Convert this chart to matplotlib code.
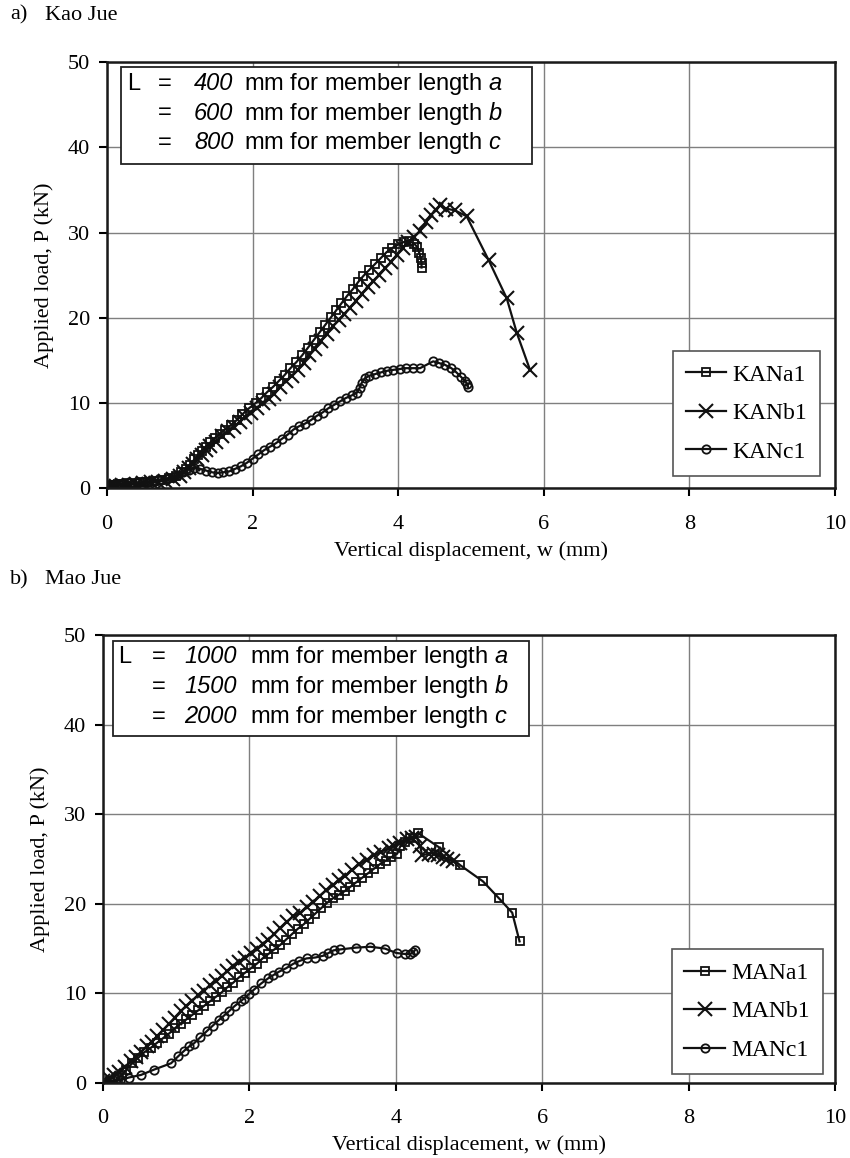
import matplotlib
matplotlib.use('Agg')
import matplotlib.pyplot as plt
from matplotlib.patches import Rectangle

plt.rcParams['font.family'] = 'Liberation Serif'
plt.rcParams['mathtext.fontset'] = 'custom'
plt.rcParams['mathtext.rm'] = 'Liberation Sans'
plt.rcParams['mathtext.it'] = 'Liberation Sans:italic'

# Kao Jue (a)
kana1_w = [0.00, 0.05, 0.10, 0.15, 0.20, 0.28, 0.35, 0.45, 0.55, 0.65, 0.75, 0.85, 0.95, 1.02, 1.08,
           1.14, 1.20, 1.25, 1.30, 1.36, 1.42, 1.48, 1.55, 1.62, 1.70, 1.78, 1.86, 1.95, 2.04, 2.12,
           2.20, 2.28, 2.36, 2.44, 2.52, 2.60, 2.68, 2.76, 2.84, 2.92, 3.00, 3.08, 3.15, 3.22, 3.30,
           3.38, 3.45, 3.52, 3.60, 3.68, 3.76, 3.84, 3.92, 4.00, 4.08, 4.15, 4.22, 4.26, 4.29, 4.31,
           4.32, 4.32]
kana1_p = [0.3, 0.4, 0.4, 0.5, 0.5, 0.6, 0.6, 0.7, 0.8, 0.9, 1.0, 1.2, 1.5, 1.9, 2.3,
           2.8, 3.4, 3.9, 4.4, 4.9, 5.4, 5.9, 6.4, 6.9, 7.4, 8.0, 8.7, 9.4, 10.0, 10.6,
           11.3, 11.9, 12.6, 13.3, 14.1, 14.8, 15.6, 16.5, 17.4, 18.3, 19.2, 20.1, 20.9, 21.7, 22.6,
           23.4, 24.2, 24.9, 25.6, 26.3, 27.0, 27.7, 28.2, 28.6, 28.9, 29.0, 28.7, 28.3, 27.6, 27.0,
           26.4, 25.9]

kanb1_w = [0.00, 0.06, 0.12, 0.20, 0.30, 0.40, 0.50, 0.60, 0.70, 0.80, 0.90, 1.00, 1.06, 1.12, 1.18,
           1.24, 1.30, 1.36, 1.42, 1.50, 1.58, 1.66, 1.74, 1.82, 1.90, 1.98, 2.06, 2.14, 2.22, 2.30,
           2.38, 2.46, 2.54, 2.62, 2.70, 2.78, 2.86, 2.94, 3.02, 3.10, 3.18, 3.26, 3.34, 3.42, 3.50,
           3.58, 3.66, 3.74, 3.82, 3.90, 3.98, 4.06, 4.14, 4.22, 4.30, 4.38, 4.45, 4.52, 4.57, 4.66,
           4.78, 4.94, 5.24, 5.49, 5.63, 5.81]
kanb1_p = [0.2, 0.3, 0.3, 0.4, 0.4, 0.5, 0.6, 0.7, 0.8, 0.9, 1.1, 1.5, 1.9, 2.4, 2.9,
           3.4, 3.9, 4.5, 5.0, 5.5, 6.1, 6.7, 7.2, 7.8, 8.4, 8.9, 9.4, 10.0, 10.5, 11.1,
           11.9, 12.6, 13.2, 13.9, 14.7, 15.6, 16.4, 17.3, 18.1, 19.0, 19.7, 20.4, 21.2, 22.0, 22.8,
           23.6, 24.3, 25.0, 25.8, 26.5, 27.4, 28.2, 28.9, 29.5, 30.2, 31.2, 32.1, 32.6, 33.2, 32.8,
           32.6, 31.9, 26.8, 22.3, 18.2, 13.9]

kanc1_w = [0.00, 0.05, 0.10, 0.18, 0.26, 0.34, 0.42, 0.50, 0.58, 0.66, 0.74, 0.82, 0.90, 0.98, 1.05,
           1.12, 1.20, 1.28, 1.36, 1.44, 1.52, 1.60, 1.68, 1.76, 1.84, 1.92, 2.00, 2.08, 2.16, 2.24,
           2.32, 2.40, 2.48, 2.56, 2.64, 2.72, 2.80, 2.88, 2.96, 3.04, 3.12, 3.20, 3.28, 3.36, 3.43,
           3.47, 3.50, 3.54, 3.60, 3.68, 3.76, 3.85, 3.93, 4.02, 4.10, 4.20, 4.30, 4.48, 4.56, 4.64,
           4.73, 4.80, 4.86, 4.92, 4.95, 4.96]
kanc1_p = [0.2, 0.3, 0.3, 0.4, 0.4, 0.5, 0.6, 0.7, 0.8, 0.9, 1.0, 1.1, 1.3, 1.6, 1.9,
           2.2, 2.4, 2.3, 2.1, 1.9, 1.8, 1.9, 2.0, 2.3, 2.6, 3.0, 3.5, 4.0, 4.5, 4.9,
           5.3, 5.8, 6.3, 6.9, 7.3, 7.6, 8.0, 8.5, 8.9, 9.4, 9.8, 10.2, 10.6, 10.9, 11.2,
           11.8, 12.4, 12.9, 13.2, 13.4, 13.6, 13.8, 13.9, 14.0, 14.1, 14.1, 14.1, 14.9, 14.7, 14.5,
           14.1, 13.6, 13.1, 12.6, 12.2, 11.9]

# Mao Jue (b)
mana1_w = [0.00, 0.10, 0.20, 0.26, 0.32, 0.40, 0.48, 0.56, 0.65, 0.74, 0.82, 0.90, 0.98, 1.06, 1.14,
           1.22, 1.30, 1.38, 1.46, 1.54, 1.62, 1.70, 1.78, 1.86, 1.94, 2.02, 2.10, 2.18, 2.26, 2.34,
           2.42, 2.50, 2.58, 2.66, 2.74, 2.82, 2.90, 2.98, 3.06, 3.14, 3.22, 3.30, 3.38, 3.46, 3.54,
           3.62, 3.70, 3.78, 3.86, 3.94, 4.02, 4.06, 4.12, 4.20, 4.30, 4.59, 4.88, 5.19, 5.41, 5.59,
           5.69]
mana1_p = [0.0, 0.2, 0.4, 0.9, 1.5, 2.2, 2.8, 3.4, 3.9, 4.5, 5.0, 5.5, 6.1, 6.6, 7.1,
           7.6, 8.1, 8.6, 9.1, 9.6, 10.1, 10.7, 11.2, 11.8, 12.3, 12.8, 13.3, 13.9, 14.4, 14.9,
           15.4, 16.0, 16.6, 17.2, 17.7, 18.3, 18.9, 19.5, 20.1, 20.6, 21.0, 21.4, 21.9, 22.4, 22.9,
           23.4, 23.9, 24.4, 24.8, 25.2, 25.6, 26.4, 26.9, 27.3, 27.9, 26.3, 24.3, 22.5, 20.6, 19.0,
           15.8]

manb1_w = [0.00, 0.08, 0.15, 0.22, 0.30, 0.38, 0.45, 0.52, 0.60, 0.67, 0.74, 0.82, 0.90, 0.98, 1.06,
           1.14, 1.22, 1.30, 1.38, 1.46, 1.54, 1.62, 1.70, 1.78, 1.86, 1.94, 2.02, 2.10, 2.18, 2.26,
           2.34, 2.42, 2.51, 2.60, 2.69, 2.78, 2.87, 2.96, 3.05, 3.14, 3.22, 3.31, 3.40, 3.50, 3.60,
           3.70, 3.80, 3.90, 3.98, 4.06, 4.15, 4.22, 4.28, 4.33, 4.36, 4.45, 4.52, 4.58, 4.64, 4.70,
           4.78]
manb1_p = [0.2, 0.5, 0.9, 1.2, 1.8, 2.4, 2.9, 3.5, 4.1, 4.6, 5.2, 5.9, 6.6, 7.3, 8.0,
           8.6, 9.2, 9.8, 10.3, 10.9, 11.4, 11.9, 12.5, 13.0, 13.5, 14.0, 14.5, 15.0, 15.5, 16.0,
           16.6, 17.3, 18.0, 18.6, 19.0, 19.6, 20.2, 20.9, 21.5, 22.1, 22.6, 23.1, 23.8, 24.4, 24.9,
           25.4, 25.8, 26.2, 26.5, 26.8, 27.2, 27.3, 27.5, 26.5, 25.4, 25.6, 25.6, 25.4, 25.2, 25.0,
           24.8]

manc1_w = [0.00, 0.12, 0.23, 0.35, 0.52, 0.70, 0.93, 1.03, 1.11, 1.18, 1.24, 1.33, 1.42, 1.50, 1.58,
           1.65, 1.72, 1.80, 1.88, 1.92, 1.99, 2.06, 2.16, 2.26, 2.32, 2.40, 2.50, 2.60, 2.68, 2.78,
           2.90, 3.01, 3.08, 3.15, 3.24, 3.45, 3.65, 3.85, 4.01, 4.12, 4.20, 4.24, 4.26]
manc1_p = [0.0, 0.1, 0.3, 0.6, 0.9, 1.5, 2.2, 3.0, 3.6, 4.1, 4.4, 5.1, 5.8, 6.4, 7.0,
           7.5, 8.0, 8.6, 9.1, 9.4, 9.9, 10.4, 11.1, 11.7, 12.0, 12.4, 12.8, 13.3, 13.6, 13.9,
           14.0, 14.2, 14.5, 14.8, 14.9, 15.1, 15.2, 15.0, 14.5, 14.4, 14.4, 14.6, 14.8]

lengths_a = ['400', '600', '800']
lengths_b = ['1000', '1500', '2000']
member = ['a', 'b', 'c']

fig = plt.figure(figsize=(8.5, 11.58), dpi=100)
ax1 = fig.add_axes([0.1259, 0.5782, 0.8565, 0.3683])
ax2 = fig.add_axes([0.1212, 0.0648, 0.8612, 0.3869])


def style_axes(ax):
    ax.set_xlim(0, 10)
    ax.set_ylim(0, 50)
    ax.set_xticks(range(0, 11, 2))
    ax.set_yticks(range(0, 51, 10))
    ax.grid(True, color='#7f7f7f', linewidth=1.0)
    ax.set_axisbelow(True)
    for s in ax.spines.values():
        s.set_linewidth(1.8)
        s.set_color('#1a1a1a')
    ax.tick_params(direction='out', length=6, width=1.5, labelsize=16, pad=6)
    ax.tick_params(axis='x', pad=13)
    ax.set_xlabel('Vertical displacement, w (mm)', fontsize=16, labelpad=5)
    ax.set_ylabel('Applied load, P (kN)', fontsize=16, labelpad=10)


def plot_series(ax, data, labels):
    mk = [dict(marker='s', ms=6, mew=1.3, mfc='none'),
          dict(marker='x', ms=10, mew=1.5),
          dict(marker='o', ms=6, mew=1.3, mfc='none')]
    for (w, p), lab, m in zip(data, labels, mk):
        ax.plot(w, p, color='#111111', lw=1.6, mec='#111111', label=lab, **m)
    return ax


def length_box(ax, x0, x1, y0, y1, xl, xeq, xnum, xmm, rows, nums):
    ax.add_patch(Rectangle((x0, y0), x1 - x0, y1 - y0, transform=ax.transAxes,
                           facecolor='white', edgecolor='#222222', lw=1.3, zorder=5))
    kw = dict(transform=ax.transAxes, fontsize=17, family='Liberation Sans',
              va='center', zorder=6)
    for i, (y, n, m) in enumerate(zip(rows, nums, member)):
        if i == 0:
            ax.text(xl, y, 'L', ha='left', **kw)
        ax.text(xeq, y, '=', ha='center', **kw)
        ax.text(xnum, y, n, ha='right', style='italic', **kw)
        ax.text(xmm, y, 'mm for member length $\\mathit{%s}$' % m, ha='left', **kw)


def series_legend(ax, x1, y0):
    leg = ax.legend(loc='lower right', bbox_to_anchor=(x1, y0), fontsize=17,
                    fancybox=False, framealpha=1, edgecolor='#555555', borderaxespad=0,
                    handlelength=1.7, labelspacing=0.72, borderpad=0.55, handletextpad=0.3)
    leg.get_frame().set_linewidth(1.2)


style_axes(ax1)
plot_series(ax1, [(kana1_w, kana1_p), (kanb1_w, kanb1_p), (kanc1_w, kanc1_p)],
            ['KANa1', 'KANb1', 'KANc1'])
series_legend(ax1, 0.98, 0.03)
length_box(ax1, 0.0188, 0.5834, 0.761, 0.9876, 0.0271, 0.0797, 0.1735, 0.1882,
           [0.9484, 0.8797, 0.8108], lengths_a)

style_axes(ax2)
plot_series(ax2, [(mana1_w, mana1_p), (manb1_w, manb1_p), (manc1_w, manc1_p)],
            ['MANa1', 'MANb1', 'MANc1'])
series_legend(ax2, 0.984, 0.02)
length_box(ax2, 0.0141, 0.5824, 0.7746, 0.9866, 0.0209, 0.0755, 0.1826, 0.2008,
           [0.9516, 0.8846, 0.8177], lengths_b)

fig.text(10 / 850, 1 - 15 / 1158, 'a)', fontsize=16, va='center', ha='left')
fig.text(45 / 850, 1 - 15 / 1158, 'Kao Jue', fontsize=16, va='center', ha='left')
fig.text(10 / 850, 1 - 580 / 1158, 'b)', fontsize=16, va='center', ha='left')
fig.text(45 / 850, 1 - 580 / 1158, 'Mao Jue', fontsize=16, va='center', ha='left')

fig.savefig('out.png', dpi=100)
